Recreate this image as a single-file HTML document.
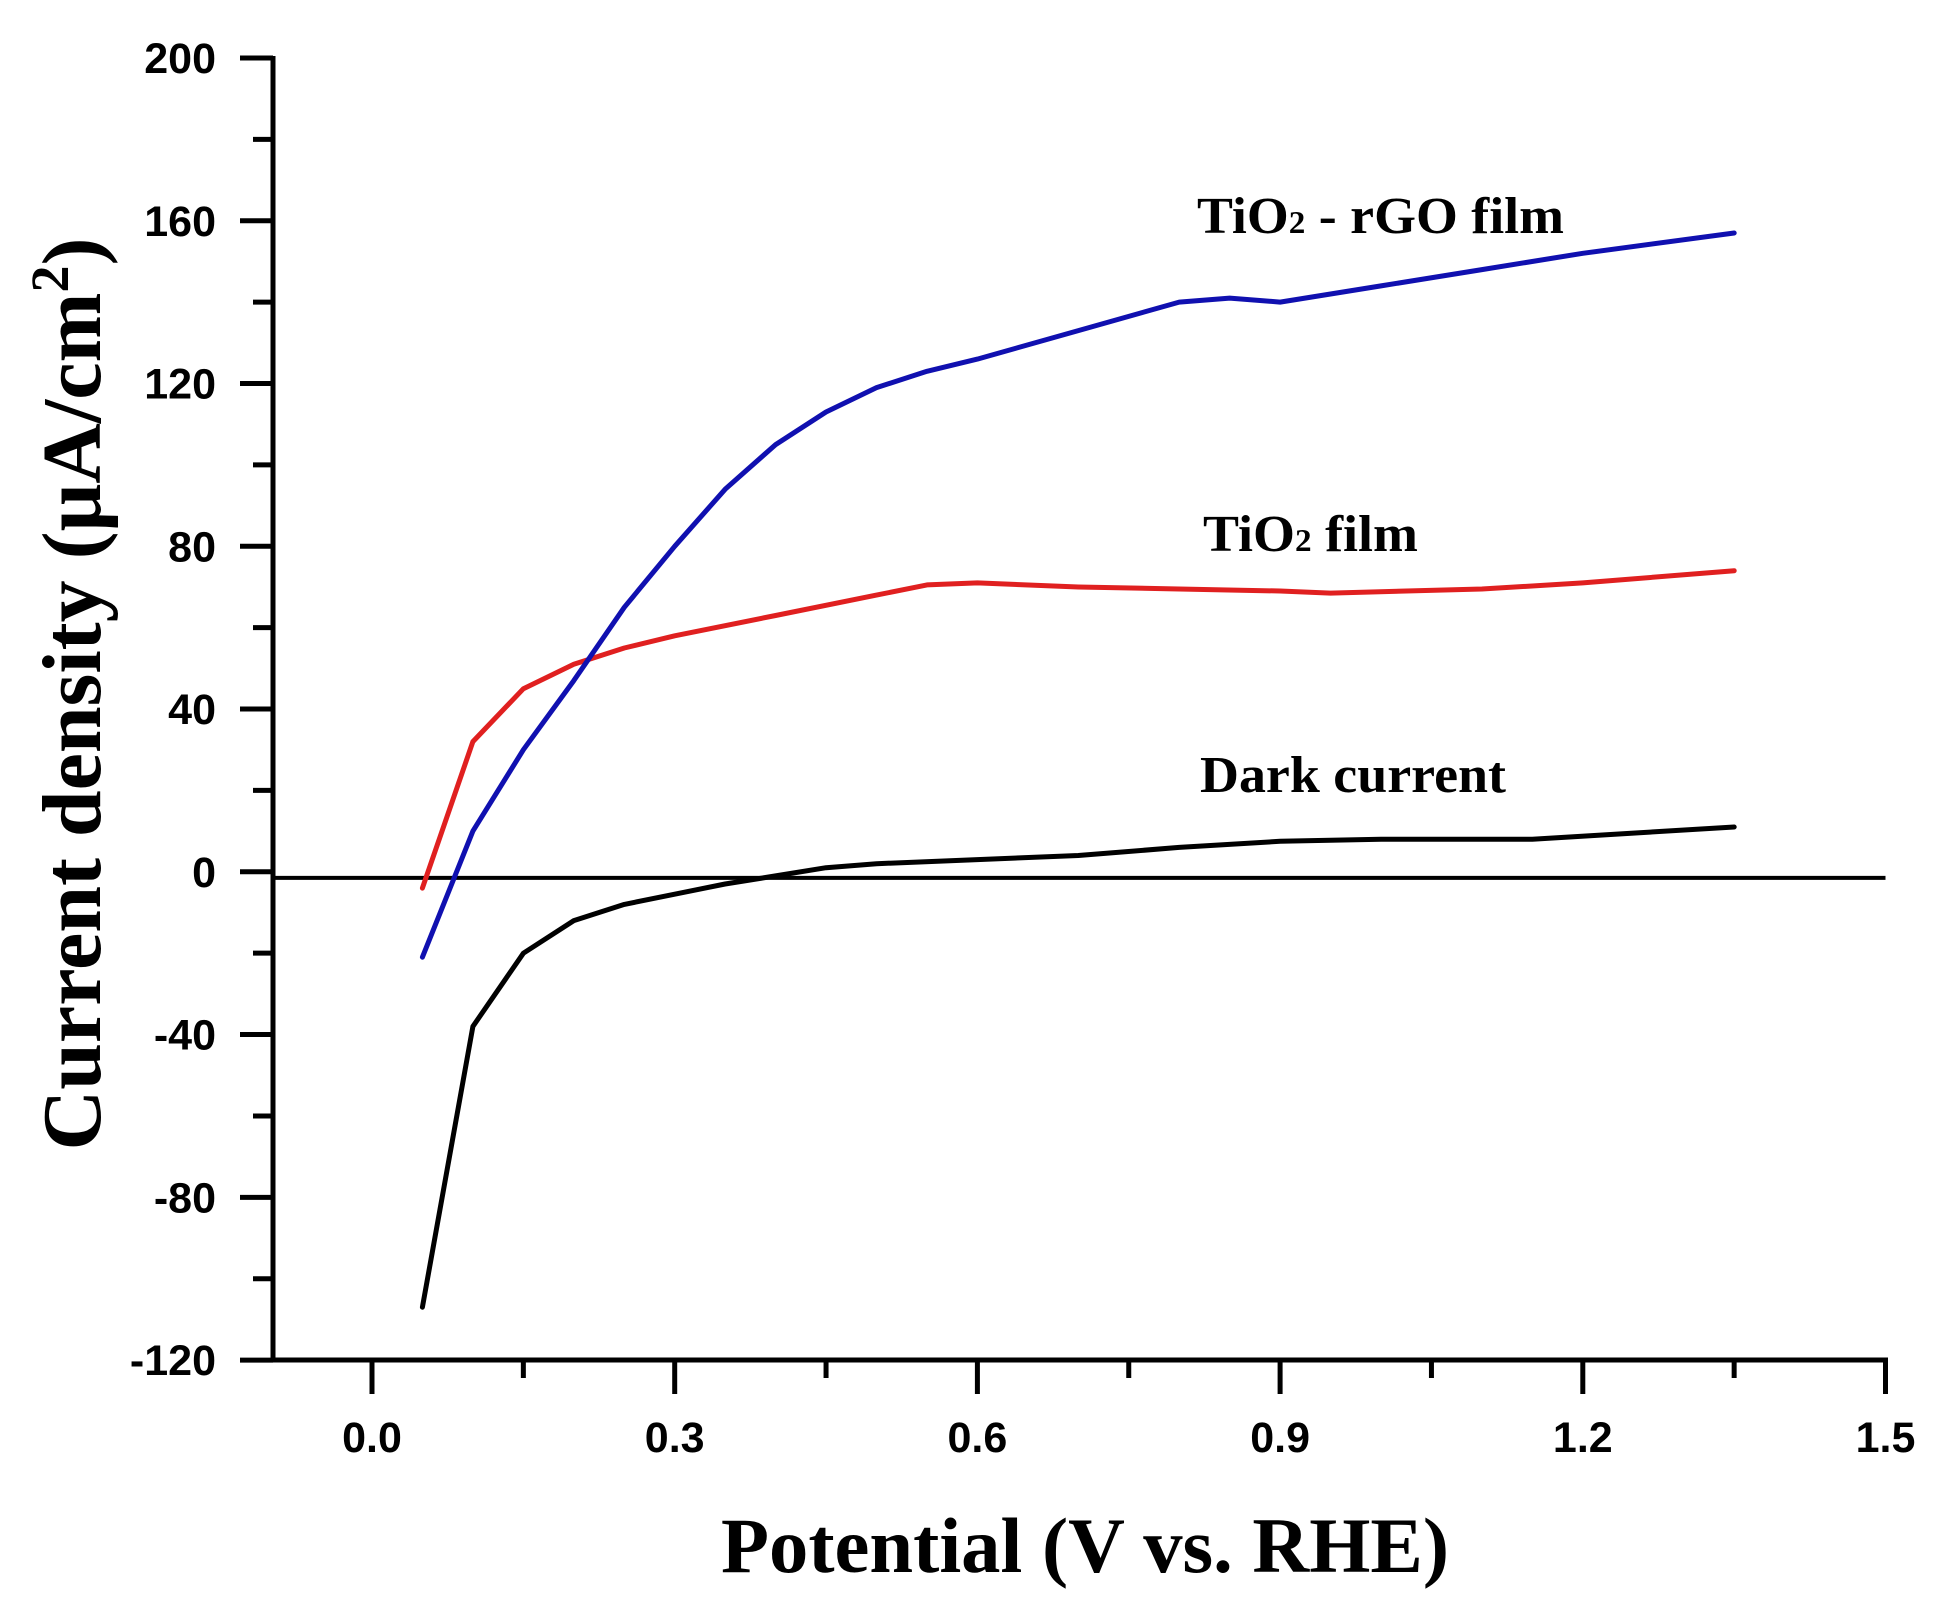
<!DOCTYPE html>
<html><head><meta charset="utf-8"><style>
html,body{margin:0;padding:0;background:#fff;width:1950px;height:1610px;overflow:hidden}
svg{display:block}
.tk{font-family:"Liberation Sans",Arial,sans-serif;font-weight:bold;font-size:43px;fill:#000}
.lb{font-family:"Liberation Serif",serif;font-weight:bold;font-size:52px;fill:#000}
</style></head><body>
<svg id="s" width="1950" height="1610" xmlns="http://www.w3.org/2000/svg">
<text class="lb" x="1197" y="233" textLength="367" lengthAdjust="spacingAndGlyphs">TiO<tspan font-size="32">2</tspan> - rGO film</text>
<text class="lb" x="1203" y="551" textLength="215" lengthAdjust="spacingAndGlyphs">TiO<tspan font-size="32">2</tspan> film</text>
<text class="lb" x="1200" y="792" textLength="306" lengthAdjust="spacingAndGlyphs">Dark current</text>
<text font-family="Liberation Serif,serif" font-weight="bold" font-size="78" x="1085" y="1572" text-anchor="middle" textLength="728" lengthAdjust="spacingAndGlyphs">Potential (V vs. RHE)</text>
<text font-family="Liberation Serif,serif" font-weight="bold" font-size="84" transform="translate(100,694) rotate(-90)" text-anchor="middle">Current density (μA/cm<tspan font-size="54" dy="-32">2</tspan><tspan dy="32">)</tspan></text>
</svg>
<script>
var s=document.getElementById('s'),NS='http://www.w3.org/2000/svg';
function X(v){return 372+v*1009}
function Y(v){return 58+(200-v)*4.069}
function el(t,a){var e=document.createElementNS(NS,t);for(var k in a)e.setAttribute(k,a[k]);s.appendChild(e);return e}
el('line',{x1:273,y1:56,x2:273,y2:1362,stroke:'#000','stroke-width':5});
el('line',{x1:271,y1:1360,x2:1888,y2:1360,stroke:'#000','stroke-width':5});
for(var v=-120;v<=200;v+=20){var maj=(v%40==0);el('line',{x1:maj?240:253,y1:Y(v),x2:273,y2:Y(v),stroke:'#000','stroke-width':5});
 if(maj){var t=el('text',{x:216,y:Y(v)+15,'text-anchor':'end','class':'tk'});t.textContent=String(v);}}
for(var i=0;i<=10;i++){var xv=i*0.15,maj=(i%2==0);el('line',{x1:X(xv),y1:1360,x2:X(xv),y2:maj?1394:1378,stroke:'#000','stroke-width':5});
 if(maj){var t=el('text',{x:X(xv),y:1452,'text-anchor':'middle','class':'tk'});t.textContent=(xv).toFixed(1);}}
el('line',{x1:273,y1:Y(-1.5),x2:X(1.5),y2:Y(-1.5),stroke:'#000','stroke-width':4});
function curve(pts,c){var d=pts.map(function(p,i){return (i?'L':'M')+X(p[0]).toFixed(1)+' '+Y(p[1]).toFixed(1)}).join(' ');
 el('path',{d:d,fill:'none',stroke:c,'stroke-width':5,'stroke-linejoin':'round','stroke-linecap':'round'});}
curve([[0.05,-107],[0.1,-38],[0.15,-20],[0.2,-12],[0.25,-8],[0.3,-5.5],[0.35,-3],[0.4,-1],[0.45,1],[0.5,2],[0.6,3],[0.7,4],[0.8,6],[0.9,7.5],[1.0,8],[1.15,8],[1.25,9.5],[1.35,11]],'#000');
curve([[0.05,-4],[0.1,32],[0.15,45],[0.2,51],[0.25,55],[0.3,58],[0.4,63],[0.5,68],[0.55,70.5],[0.6,71],[0.7,70],[0.8,69.5],[0.9,69],[0.95,68.5],[1.1,69.5],[1.2,71],[1.35,74]],'#e02020');
curve([[0.05,-21],[0.1,10],[0.15,30],[0.2,47],[0.25,65],[0.3,80],[0.35,94],[0.4,105],[0.45,113],[0.5,119],[0.55,123],[0.6,126],[0.7,133],[0.8,140],[0.85,141],[0.9,140],[1.0,144],[1.1,148],[1.2,152],[1.35,157]],'#1010b0');
</script>
</body></html>
